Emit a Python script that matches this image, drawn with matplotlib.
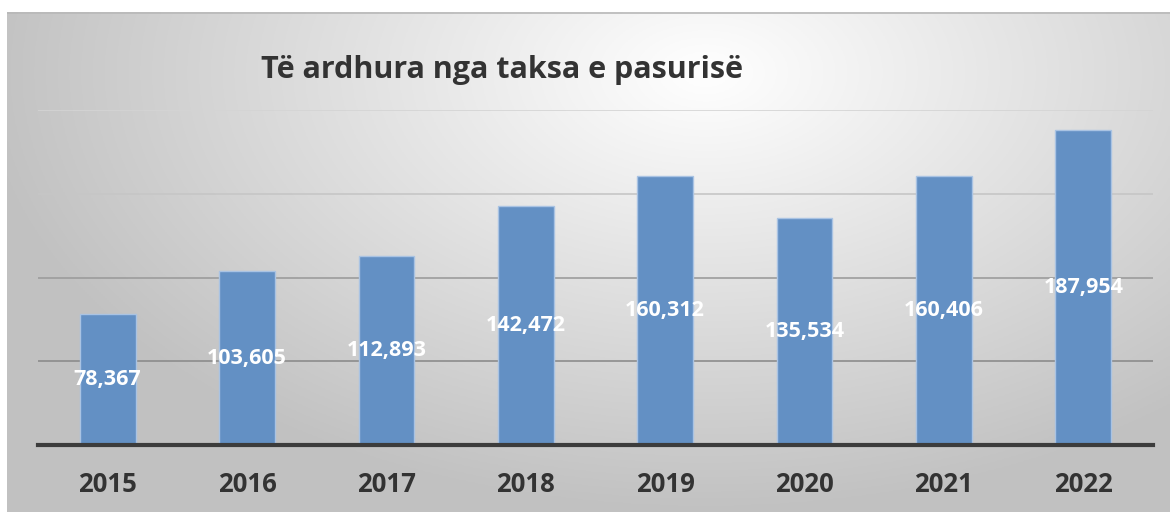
import matplotlib.pyplot as plt
import numpy as np

years = ['2015', '2016', '2017', '2018', '2019', '2020', '2021', '2022']
revenue = [78367, 103605, 112893, 142472, 160312, 135534, 160406, 187954]
grid_values = [50000, 100000, 150000, 200000]
grid_colors = ['#8c8c8c', '#9c9c9c', '#c6c6c6', '#d4d4d4']
title = 'Të ardhura nga taksa e pasurisë'

plt.rcParams['font.family'] = ['Open Sans', 'DejaVu Sans']

fig = plt.figure(figsize=(11.7, 5.12), dpi=100)
fig.patch.set_facecolor('white')

# Background panel with a soft radial gradient
bg = fig.add_axes([7 / 1170, 0, 1 - 7 / 1170, 500 / 512])
h, w = 250, 580
yy, xx = np.mgrid[0:h, 0:w]
cx, cy = 0.6 * w, 0.12 * h
d = np.sqrt(((xx - cx) / w) ** 2 + ((yy - cy) / (h * 1.4)) ** 2)
d = np.clip(d / 0.62, 0, 1)
shade = 1.0 - 0.24 * d
img = np.dstack([shade, shade, shade])
bg.imshow(img, aspect='auto', extent=[0, 1, 0, 1], origin='upper')
bg.set_xlim(0, 1)
bg.set_ylim(0, 1)
bg.axis('off')
bg.plot([0, 1], [0.998, 0.998], color='#b8b8b8', lw=1.2)

ax = fig.add_axes([38 / 1170, 1 - 445 / 512, 1115 / 1170, 335 / 512])
ax.patch.set_alpha(0)
x = np.arange(len(years))

for gv, gc in zip(grid_values, grid_colors):
    ax.axhline(gv, color=gc, lw=1.2, zorder=1)

bars = ax.bar(x, revenue, width=0.4, color='#6390c4', edgecolor='#a9c3e3',
              linewidth=1.0, zorder=2)

for xi, v in zip(x, revenue):
    ax.text(xi, v / 2, f'{v:,}', ha='center', va='center', color='white',
            fontsize=15.5, fontweight='bold', zorder=3)

ax.set_xlim(-0.5, len(years) - 0.5)
ax.set_ylim(0, 200000)
ax.set_xticks(x)
ax.set_xticklabels(years, fontsize=18.5, fontweight='bold', color='#333333')
ax.tick_params(axis='x', length=0, pad=19)
ax.set_yticks([])
for s in ['top', 'right', 'left']:
    ax.spines[s].set_visible(False)
ax.spines['bottom'].set_color('#3c3c3c')
ax.spines['bottom'].set_linewidth(3)
ax.spines['bottom'].set_zorder(4)

fig.text(502 / 1170, 1 - 70 / 512, title, ha='center', va='center',
         fontsize=22, fontweight='bold', color='#333333')

fig.savefig('out.png', dpi=100)
